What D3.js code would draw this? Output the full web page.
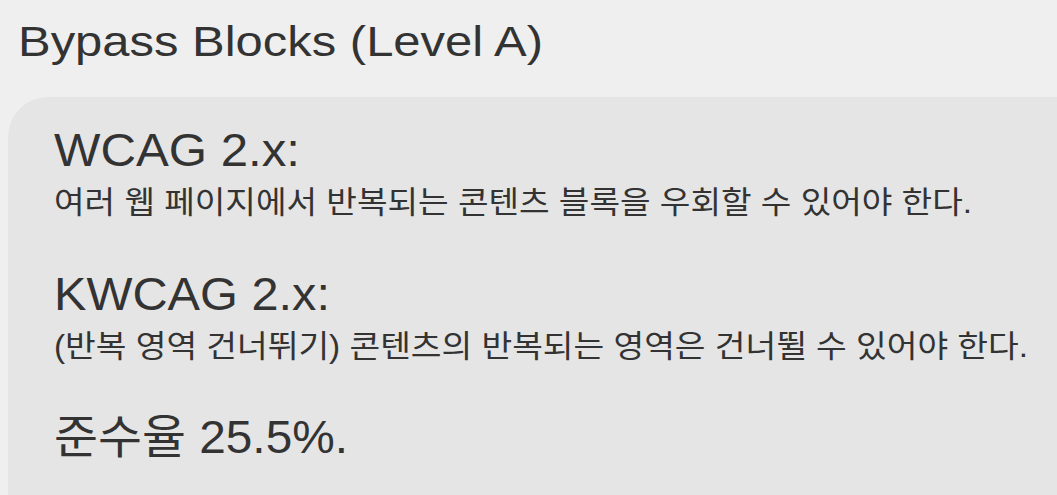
<!DOCTYPE html>
<html><head><meta charset="utf-8">
<script src="https://cdn.jsdelivr.net/npm/d3@7"></script>
<style>body{margin:0;background:#efefef;overflow:hidden}</style>
</head><body><div id="chart"></div>
<script>
const title = "Bypass Blocks (Level A)";
const headings = ["WCAG 2.x:", "KWCAG 2.x:"];
const descriptions = [
  "여러 웹 페이지에서 반복되는 콘텐츠 블록을 우회할 수 있어야 한다.",
  "(반복 영역 건너뛰기) 콘텐츠의 반복되는 영역은 건너뛸 수 있어야 한다."
];
const rateLabel = "준수율";
const rate = 25.5;

const width = 1057, height = 495;
const font = "'Liberation Sans', 'Noto Sans CJK KR', sans-serif";

const svg = d3.select("#chart").append("svg")
  .attr("width", width).attr("height", height);

svg.append("rect").attr("width", width).attr("height", height).attr("fill", "#efefef");

svg.append("text")
  .attr("x", 18).attr("y", 56)
  .attr("font-family", font).attr("font-size", 42).attr("fill", "#333")
  .attr("textLength", 525).attr("lengthAdjust", "spacingAndGlyphs")
  .text(title);

// card
svg.append("rect")
  .attr("x", 8).attr("y", 97).attr("width", width + 40).attr("height", height)
  .attr("rx", 40).attr("fill", "#e5e5e5");

const y = d3.scaleLinear().domain([0, 1]).range([166, 310]);
const headLen = [246, 276];
const descLen = [918, 974];

const g = svg.append("g").attr("font-family", font).attr("fill", "#333");

headings.forEach((h, i) => {
  g.append("text").attr("x", 54).attr("y", y(i))
    .attr("font-size", 46).attr("textLength", headLen[i])
    .attr("lengthAdjust", "spacingAndGlyphs").text(h);
  g.append("text").attr("x", 54).attr("y", y(i) + 47)
    .attr("font-size", 31).attr("textLength", descLen[i])
    .attr("lengthAdjust", "spacingAndGlyphs").text(descriptions[i]);
});

g.append("text").attr("x", 54).attr("y", y(2) - 1)
  .attr("font-size", 46).attr("textLength", 294)
  .attr("lengthAdjust", "spacingAndGlyphs")
  .text(`${rateLabel} ${d3.format(".1f")(rate)}%.`);
</script>
</body></html>
